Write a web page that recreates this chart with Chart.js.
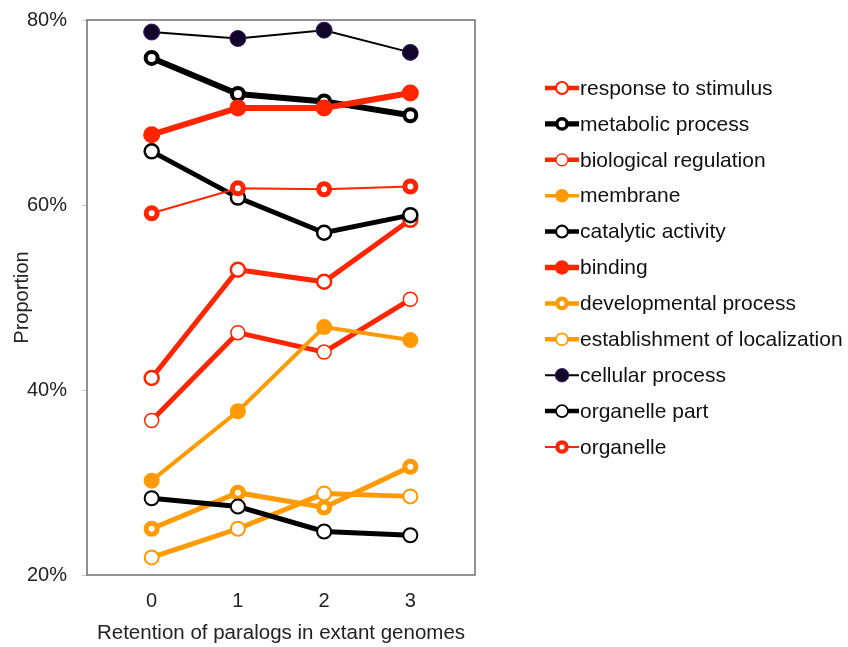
<!DOCTYPE html>
<html>
<head>
<meta charset="utf-8">
<script src="https://cdn.jsdelivr.net/npm/chart.js@4.4.1/dist/chart.umd.min.js"></script>
<style>
  html, body { margin: 0; padding: 0; background: #fff; }
  #chart { display: block; }
</style>
</head>
<body>
<canvas id="chart" width="848" height="647"></canvas>
<script>
// Retention of paralogs (0-3 extant genomes) vs. proportion of genes per GO term
const retention = [0, 1, 2, 3];
const yTickValues = [20, 40, 60, 80];

const responseToStimulus          = [41.3, 53.0, 51.7, 58.4];
const metabolicProcess            = [75.9, 72.0, 71.2, 69.7];
const biologicalRegulation        = [36.7, 46.2, 44.1, 49.8];
const membrane                    = [30.2, 37.7, 46.8, 45.4];
const catalyticActivity           = [65.8, 60.8, 57.0, 58.9];
const binding                     = [67.6, 70.5, 70.5, 72.1];
const developmentalProcess        = [25.0, 28.9, 27.3, 31.7];
const establishmentOfLocalization = [21.9, 25.0, 28.8, 28.5];
const cellularProcess             = [78.7, 78.0, 78.9, 76.5];
const organellePart               = [28.3, 27.4, 24.7, 24.3];
const organelle                   = [59.1, 61.8, 61.7, 62.0];

const RED = '#ff2500';
const ORANGE = '#ff9b00';
const BLACK = '#000000';

function series(label, values, color, lineWidth, fill, radius, ring) {
  return {
    label,
    data: values.map((v, i) => ({ x: retention[i], y: v })),
    borderColor: color,
    borderWidth: lineWidth,
    pointBackgroundColor: fill,
    pointBorderColor: color,
    pointRadius: radius,
    pointBorderWidth: ring,
    pointHoverRadius: radius,
    tension: 0
  };
}

const datasets = [
  series('response to stimulus', responseToStimulus, RED, 5, '#ffffff', 7, 2.5),
  series('metabolic process', metabolicProcess, BLACK, 6, '#ffffff', 6, 4),
  series('biological regulation', biologicalRegulation, RED, 5, '#ffffff', 7, 1.5),
  series('membrane', membrane, ORANGE, 4, ORANGE, 8, 0),
  series('catalytic activity', catalyticActivity, BLACK, 5, '#ffffff', 7, 2.5),
  series('binding', binding, RED, 6, RED, 8.5, 0),
  series('developmental process', developmentalProcess, ORANGE, 5, '#ffffff', 5.5, 5),
  series('establishment of localization', establishmentOfLocalization, ORANGE, 5, '#ffffff', 7, 2),
  series('cellular process', cellularProcess, BLACK, 2, '#12052a', 8, 1),
  series('organelle part', organellePart, BLACK, 5, '#ffffff', 7, 2),
  series('organelle', organelle, RED, 2, '#ffffff', 5.5, 5)
];
datasets[8].pointBorderColor = '#3b1d66';
// later entries are painted over earlier ones
datasets.forEach((d, i) => { d.order = datasets.length - i; });

const FONT = { family: "'Liberation Sans', Arial, sans-serif", size: 20 };
const LEGEND_FONT_SIZE = 21;

// frame around the plotting area
const frame = {
  id: 'frame',
  beforeDatasetsDraw(chart) {
    const { ctx, chartArea: a } = chart;
    ctx.save();
    ctx.strokeStyle = '#6e6e6e';
    ctx.lineWidth = 1.5;
    ctx.strokeRect(a.left, a.top, a.right - a.left, a.bottom - a.top);
    ctx.restore();
  }
};

// line-and-marker legend to the right of the plot
const sideLegend = {
  id: 'sideLegend',
  afterDraw(chart) {
    const { ctx } = chart;
    const x0 = chart.chartArea.right + 70;
    const y0 = 88;
    const step = 35.9;
    ctx.save();
    chart.data.datasets.forEach((d, i) => {
      const y = y0 + i * step;
      ctx.beginPath();
      ctx.moveTo(x0, y);
      ctx.lineTo(x0 + 34, y);
      ctx.strokeStyle = d.borderColor;
      ctx.lineWidth = Math.max(2, d.borderWidth * 0.9);
      ctx.stroke();
      const r = d.pointRadius * 0.85;
      ctx.beginPath();
      ctx.arc(x0 + 17, y, r, 0, Math.PI * 2);
      ctx.fillStyle = d.pointBackgroundColor;
      ctx.fill();
      if (d.pointBorderWidth > 0) {
        ctx.lineWidth = d.pointBorderWidth * 0.85;
        ctx.strokeStyle = d.pointBorderColor;
        ctx.stroke();
      }
      ctx.fillStyle = '#111';
      ctx.font = `${LEGEND_FONT_SIZE}px ${FONT.family}`;
      ctx.textBaseline = 'middle';
      ctx.textAlign = 'left';
      ctx.fillText(d.label, x0 + 35, y + 1);
    });
    ctx.restore();
  }
};

new Chart(document.getElementById('chart'), {
  type: 'line',
  data: { datasets },
  options: {
    responsive: false,
    animation: false,
    layout: { padding: { left: 0, right: 373, top: 20, bottom: 0 } },
    plugins: { legend: { display: false }, tooltip: { enabled: false } },
    scales: {
      x: {
        type: 'linear',
        min: -0.75,
        max: 3.75,
        afterBuildTicks(scale) { scale.ticks = retention.map(v => ({ value: v })); },
        afterFit(scale) { scale.height = 72; scale.paddingLeft = 0; scale.paddingRight = 0; },
        grid: { display: false, drawOnChartArea: false },
        border: { display: false },
        ticks: { font: FONT, color: '#222', padding: 6, callback: v => String(v) },
        title: { display: true, text: 'Retention of paralogs in extant genomes', font: { family: FONT.family, size: 20.5 }, color: '#222', padding: { top: 0, bottom: 1 } }
      },
      y: {
        min: 20,
        max: 80,
        afterBuildTicks(scale) { scale.ticks = yTickValues.map(v => ({ value: v })); },
        afterFit(scale) { scale.width = 87; scale.paddingTop = 0; scale.paddingBottom = 0; },
        grid: { drawOnChartArea: false, drawTicks: true, tickLength: 5, color: '#c8c8c8' },
        border: { display: false },
        ticks: { font: FONT, color: '#222', padding: 15, callback: v => v + '%' },
        title: { display: true, text: 'Proportion', font: FONT, color: '#222', padding: { top: 10, bottom: 0 } }
      }
    }
  },
  plugins: [frame, sideLegend]
});
</script>
</body>
</html>
